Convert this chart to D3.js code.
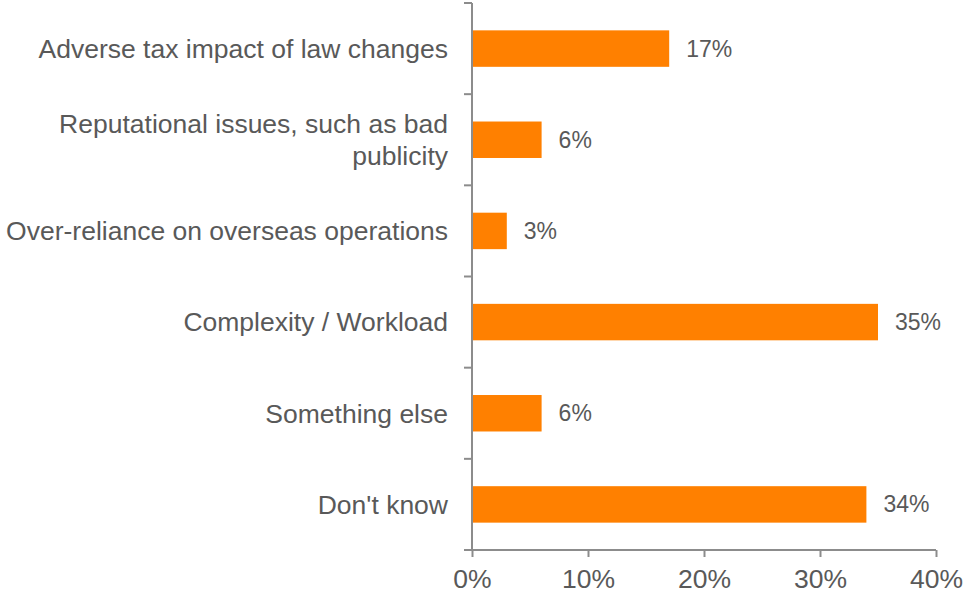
<!DOCTYPE html>
<html>
<head>
<meta charset="utf-8">
<script src="https://cdn.jsdelivr.net/npm/d3@7"></script>
<style>
  html, body { margin: 0; padding: 0; background: #fff; }
  svg { display: block; font-family: "Liberation Sans", Arial, sans-serif; }
</style>
</head>
<body>
<svg id="chart" width="969" height="593"></svg>
<script>
// Survey responses: share of respondents per concern
const categories = [
  ["Adverse tax impact of law changes"],
  ["Reputational issues, such as bad", "publicity"],
  ["Over-reliance on overseas operations"],
  ["Complexity / Workload"],
  ["Something else"],
  ["Don't know"]
];
const values = [17, 6, 3, 35, 6, 34];
const xTicks = [0, 10, 20, 30, 40];

const svg = d3.select("#chart");
const margin = { left: 472, right: 33, top: 3, bottom: 43 };
const W = 969, H = 593;

const x = d3.scaleLinear().domain([0, 40]).range([margin.left, W - margin.right]);
const y = d3.scaleBand().domain(d3.range(categories.length))
  .range([margin.top, H - margin.bottom]).paddingInner(0.6).paddingOuter(0.3);

const axisColor = "#8c8c8c";
const textColor = "#595959";

// bars
svg.append("g").selectAll("rect").data(values).join("rect")
  .attr("x", x(0))
  .attr("y", (d, i) => y(i))
  .attr("width", d => x(d) - x(0))
  .attr("height", y.bandwidth())
  .attr("fill", "#ff8000");

// value labels
svg.append("g").selectAll("text").data(values).join("text")
  .attr("x", d => x(d) + 17)
  .attr("y", (d, i) => y(i) + y.bandwidth() / 2)
  .attr("dy", "0.35em")
  .attr("font-size", 23)
  .attr("fill", textColor)
  .text(d => d + "%");

// x axis
const xAxis = svg.append("g")
  .attr("transform", `translate(0,${H - margin.bottom})`)
  .call(d3.axisBottom(x).tickValues(xTicks).tickFormat(d => d + "%").tickSize(7));
xAxis.select(".domain").attr("stroke", axisColor).attr("stroke-width", 2)
  .attr("d", `M${x(0) - 8},0H${x(40)}`);
xAxis.selectAll(".tick line").attr("stroke", axisColor).attr("stroke-width", 2);
xAxis.selectAll(".tick text").attr("font-size", 26.5).attr("fill", textColor)
  .attr("font-family", "Liberation Sans, Arial, sans-serif")
  .attr("y", 38).attr("dy", null);

// y axis: line with ticks at band boundaries
const yEdges = d3.range(categories.length + 1).map(i => margin.top + i * y.step());
const yAxisG = svg.append("g");
yAxisG.append("line")
  .attr("x1", x(0)).attr("x2", x(0))
  .attr("y1", margin.top).attr("y2", H - margin.bottom)
  .attr("stroke", axisColor).attr("stroke-width", 2);
yAxisG.selectAll("line.tick").data(yEdges.slice(0, -1)).join("line")
  .attr("class", "tick")
  .attr("x1", x(0) - 8).attr("x2", x(0))
  .attr("y1", d => d).attr("y2", d => d)
  .attr("stroke", axisColor).attr("stroke-width", 2);

// category labels
const lineH = 32;
const labels = svg.append("g").selectAll("text").data(categories).join("text")
  .attr("text-anchor", "end")
  .attr("font-size", 26.5)
  .attr("fill", textColor)
  .attr("y", (d, i) => y(i) + y.bandwidth() / 2 - (d.length - 1) * lineH / 2);
labels.selectAll("tspan").data(d => d).join("tspan")
  .attr("x", margin.left - 24)
  .attr("dy", (d, j) => j === 0 ? "0.35em" : lineH)
  .text(d => d);
</script>
</body>
</html>
